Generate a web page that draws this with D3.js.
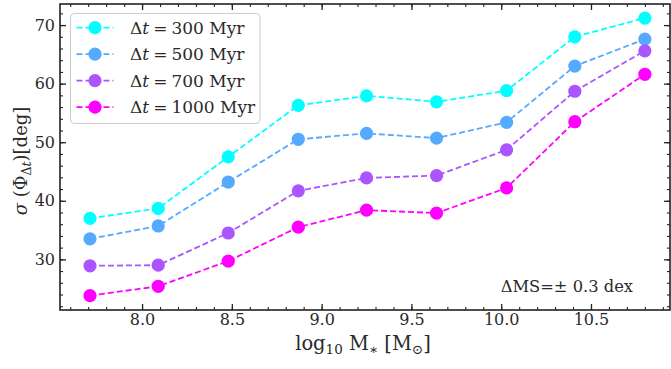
<!DOCTYPE html>
<html>
<head>
<meta charset="utf-8">
<script src="https://cdn.jsdelivr.net/npm/d3@7"></script>
<style>
    body { margin: 0; background: #ffffff; }
    svg { display: block; }
    .tick text { font-family: "DejaVu Serif", serif; font-size: 16px; fill: #2a2a2a; }
    .label { font-family: "DejaVu Serif", serif; fill: #2a2a2a; }
</style>
</head>
<body>
<svg id="chart" width="671" height="369"></svg>
<script>

// Stellar mass bins (log10 M*)
var massBins = [7.71, 8.09, 8.48, 8.87, 9.25, 9.64, 10.03, 10.41, 10.80];

// sigma(Phi) in degrees for each time window
var sigma300 = [37.0, 38.7, 47.5, 56.3, 57.9, 56.9, 58.8, 68.0, 71.2];
var sigma500 = [33.5, 35.7, 43.2, 50.5, 51.5, 50.7, 53.4, 63.0, 67.6];
var sigma700 = [28.9, 29.0, 34.5, 41.7, 43.9, 44.3, 48.7, 58.7, 65.6];
var sigma1000 = [23.8, 25.4, 29.7, 35.5, 38.4, 37.9, 42.2, 53.5, 61.6];

var seriesNames = ["300", "500", "700", "1000"];
var seriesColours = ["#00ffff", "#55aaff", "#aa55ff", "#ff00ff"];

// Tick values
var xMajorTicks = [8.0, 8.5, 9.0, 9.5, 10.0, 10.5];
var xMinorTicks = d3.range(7.6, 10.95, 0.1).map(function(d) { return +d.toFixed(1); });
var yMajorTicks = [30, 40, 50, 60, 70];
var yMinorTicks = d3.range(22, 74, 2);

function drawChart() {
    /*
    Draws the sigma(Phi) against stellar mass line chart
    */

    var padding = { top: 4, right: 1, bottom: 59, left: 60 };
    var svgWidth = 671;
    var svgHeight = 369;
    var chartWidth = svgWidth - padding.left - padding.right;
    var chartHeight = svgHeight - padding.top - padding.bottom;

    var svg = d3.select("#chart");

    var chart = svg.append("g")
        .attr("transform", `translate(${padding.left}, ${padding.top})`);

    var xScale = d3.scaleLinear()
        .domain([7.543, 10.94])
        .range([0, chartWidth]);

    var yScale = d3.scaleLinear()
        .domain([21.35, 73.6])
        .range([chartHeight, 0]);

    // Minor ticks on all four sides
    var minorAxes = [
        [d3.axisBottom(xScale).tickValues(xMinorTicks), `translate(0, ${chartHeight})`],
        [d3.axisTop(xScale).tickValues(xMinorTicks), "translate(0, 0)"],
        [d3.axisLeft(yScale).tickValues(yMinorTicks), "translate(0, 0)"],
        [d3.axisRight(yScale).tickValues(yMinorTicks), `translate(${chartWidth}, 0)`]
    ];
    minorAxes.forEach(function(a) {
        chart.append("g")
            .attr("transform", a[1])
            .call(a[0].tickSize(-3).tickFormat(""))
            .call(function(g) { g.select(".domain").remove(); })
            .selectAll("line").attr("stroke", "#222").attr("stroke-width", 1.1);
    });

    // Major x ticks and labels
    chart.append("g")
        .attr("transform", `translate(0, ${chartHeight})`)
        .call(d3.axisBottom(xScale).tickValues(xMajorTicks).tickSize(-6).tickPadding(4)
            .tickFormat(d3.format(".1f")))
        .call(function(g) { g.select(".domain").remove(); })
        .selectAll("line").attr("stroke", "#222").attr("stroke-width", 1.3);

    chart.append("g")
        .call(d3.axisTop(xScale).tickValues(xMajorTicks).tickSize(-6).tickFormat(""))
        .call(function(g) { g.select(".domain").remove(); })
        .selectAll("line").attr("stroke", "#222").attr("stroke-width", 1.3);

    // Major y ticks and labels
    chart.append("g")
        .call(d3.axisLeft(yScale).tickValues(yMajorTicks).tickSize(-6).tickPadding(5))
        .call(function(g) { g.select(".domain").remove(); })
        .selectAll("line").attr("stroke", "#222").attr("stroke-width", 1.3);

    chart.append("g")
        .attr("transform", `translate(${chartWidth}, 0)`)
        .call(d3.axisRight(yScale).tickValues(yMajorTicks).tickSize(-6).tickFormat(""))
        .call(function(g) { g.select(".domain").remove(); })
        .selectAll("line").attr("stroke", "#222").attr("stroke-width", 1.3);

    // Frame
    chart.append("rect")
        .attr("width", chartWidth)
        .attr("height", chartHeight)
        .attr("fill", "none")
        .attr("stroke", "#222")
        .attr("stroke-width", 1.6);

    // Draw the series
    var allSeries = [sigma300, sigma500, sigma700, sigma1000];

    var line = d3.line()
        .x(function(d, i) { return xScale(massBins[i]); })
        .y(function(d) { return yScale(d); });

    allSeries.forEach(function(values, s) {
        chart.append("path")
            .datum(values)
            .attr("d", line)
            .attr("fill", "none")
            .attr("stroke", seriesColours[s])
            .attr("stroke-width", 1.8)
            .attr("stroke-dasharray", "6,3");

        chart.selectAll(".dot" + s)
            .data(values)
            .enter()
            .append("circle")
                .attr("class", "dot" + s)
                .attr("cx", function(d, i) { return xScale(massBins[i]); })
                .attr("cy", function(d) { return yScale(d); })
                .attr("r", 6.6)
                .attr("fill", seriesColours[s]);
    });

    // Annotation
    svg.append("text")
        .attr("class", "label")
        .attr("x", 633)
        .attr("y", 291.5)
        .attr("text-anchor", "end")
        .attr("font-size", "16.3px")
        .text("ΔMS=± 0.3 dex");

    // Legend
    var legend = svg.append("g");

    legend.append("rect")
        .attr("x", 70.5)
        .attr("y", 13.5)
        .attr("width", 189.5)
        .attr("height", 110)
        .attr("rx", 4)
        .attr("fill", "white")
        .attr("fill-opacity", 0.8)
        .attr("stroke", "#cccccc")
        .attr("stroke-width", 1);

    seriesNames.forEach(function(name, s) {
        var yPos = 27.7 + s * 26.5;

        legend.append("line")
            .attr("x1", 76.5)
            .attr("x2", 113.5)
            .attr("y1", yPos)
            .attr("y2", yPos)
            .attr("stroke", seriesColours[s])
            .attr("stroke-width", 1.8)
            .attr("stroke-dasharray", "6,3");

        legend.append("circle")
            .attr("cx", 95)
            .attr("cy", yPos)
            .attr("r", 6.6)
            .attr("fill", seriesColours[s]);

        var text = legend.append("text")
            .attr("class", "label")
            .attr("x", 130)
            .attr("y", yPos + 6)
            .attr("font-size", "17px");
        text.append("tspan").text("Δ");
        text.append("tspan").attr("font-style", "italic").text("t");
        text.append("tspan").attr("dx", 4).text("=");
        text.append("tspan").attr("dx", 4).text(name + " Myr");
    });

    // x label
    var xLabel = svg.append("text")
        .attr("class", "label")
        .attr("x", 363)
        .attr("y", 350)
        .attr("text-anchor", "middle")
        .attr("font-size", "19.5px");
    xLabel.append("tspan").text("log");
    xLabel.append("tspan").attr("font-size", "13.5px").attr("dy", 4).text("10");
    xLabel.append("tspan").attr("dy", -4).text(" M");
    xLabel.append("tspan").attr("font-size", "13.5px").attr("dy", 4).text("∗");
    xLabel.append("tspan").attr("dy", -4).text(" [M");
    xLabel.append("tspan").attr("font-size", "13.5px").attr("dy", 4).text("⊙");
    xLabel.append("tspan").attr("dy", -4).text("]");

    // y label
    var yLabel = svg.append("text")
        .attr("class", "label")
        .attr("transform", "translate(27, 161) rotate(-90)")
        .attr("text-anchor", "middle")
        .attr("font-size", "18px");
    yLabel.append("tspan").attr("font-style", "italic").text("σ");
    yLabel.append("tspan").text(" (Φ");
    yLabel.append("tspan").attr("font-size", "12.5px").attr("dy", 4).text("Δ");
    yLabel.append("tspan").attr("font-size", "12.5px").attr("font-style", "italic").text("t");
    yLabel.append("tspan").attr("dy", -4).text(")[deg]");
};

drawChart();

</script>
</body>
</html>
